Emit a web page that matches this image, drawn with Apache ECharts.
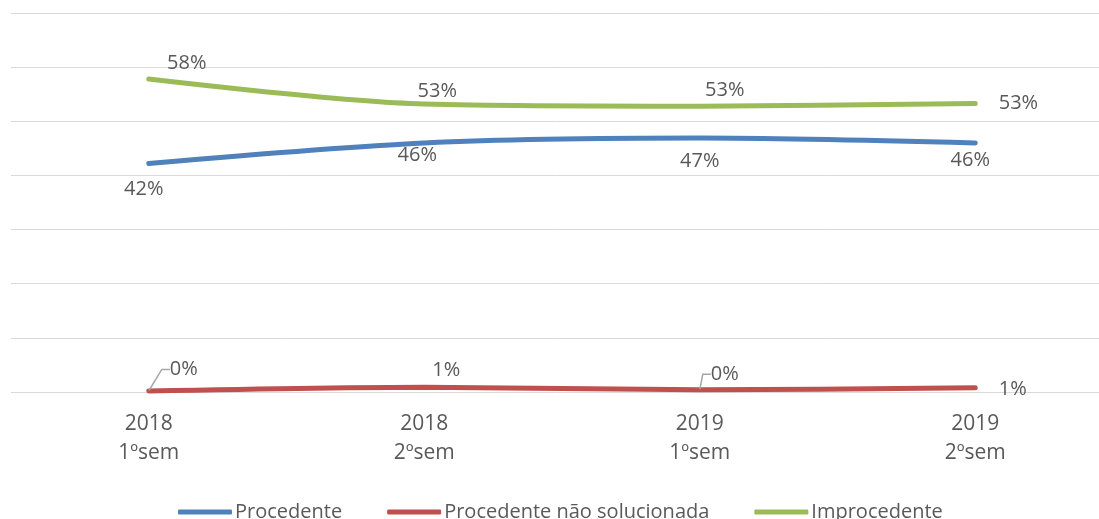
<!DOCTYPE html>
<html>
<head>
<meta charset="utf-8">
<script src="https://cdn.jsdelivr.net/npm/echarts@6/dist/echarts.min.js"></script>
<style>
  html, body { margin: 0; padding: 0; background: #fff; }
  #main { width: 1099px; height: 519px; }
</style>
</head>
<body>
<div id="main"></div>
<script>
var categories = ['2018\n1ºsem', '2018\n2ºsem', '2019\n1ºsem', '2019\n2ºsem'];
var procedente = [42.2, 46.0, 46.9, 46.0];
var naoSolucionada = [0.2, 0.9, 0.4, 0.8];
var improcedente = [57.8, 53.2, 52.8, 53.3];

// label placement per point (layout only)
var greenLabels = [['top', [38, 0]], ['top', [13, 3]], ['top', [25, 0]], ['right', [18, 0]]];
var blueLabels = [['bottom', [-5, 10]], ['bottom', [-7, -3]], ['bottom', [0, 8]], ['bottom', [-5, 2]]];
var redLabels = [['top', [0, 0]], ['top', [0, 0]], ['top', [0, 0]], ['right', [0, 0]]];
// red labels are moved by labelLayout; 0 and 2 keep a leader line
var redMoved = [[35, -6], [22, -1], [25, 0], [18, 2]];
var redLeaders = [true, false, true, false];

var textColor = '#595959';
var font = 'Open Sans';

function buildData(values, labels, leaders) {
  return values.map(function (v, i) {
    var item = {
      value: v,
      label: { position: labels[i][0], offset: labels[i][1] }
    };
    if (leaders) item.labelLine = { show: leaders[i] };
    return item;
  });
}

function pct(p) { return Math.round(p.value) + '%'; }

function lineSeries(name, color, values, labels, leaders) {
  return {
    name: name,
    type: 'line',
    smooth: 0.3,
    symbol: 'circle',
    symbolSize: 1,
    showSymbol: true,
    lineStyle: { color: color, width: 5, cap: 'round' },
    itemStyle: { color: color },
    label: { show: true, formatter: pct, color: textColor, fontSize: 20, fontFamily: font },
    data: buildData(values, labels, leaders)
  };
}

var red = lineSeries('Procedente não solucionada', '#c0504d', naoSolucionada, redLabels, redLeaders);
red.labelLine = { show: true, length: 14, length2: 8, smooth: false, minTurnAngle: 90, lineStyle: { color: '#a6a6a6', width: 1.5 } };
red.labelLayout = function (p) {
  var m = redMoved[p.dataIndex];
  return { dx: m[0], dy: m[1] };
};

var myChart = echarts.init(document.getElementById('main'));
var option = {
  animation: false,
  grid: { left: 11, top: 13, width: 1102, height: 379, outerBoundsMode: 'none' },
  legend: {
    bottom: -3,
    left: 178,
    padding: 0,
    itemWidth: 54,
    itemHeight: 5,
    itemGap: 45,
    icon: 'roundRect',
    textStyle: { color: textColor, fontSize: 20, fontFamily: font, padding: [0, 0, 0, -2] },
    data: ['Procedente', 'Procedente não solucionada', 'Improcedente']
  },
  xAxis: {
    type: 'category',
    data: categories,
    boundaryGap: true,
    axisLine: { show: false },
    axisTick: { show: false },
    axisLabel: { color: textColor, fontSize: 21, fontFamily: font, lineHeight: 29, margin: 18 }
  },
  yAxis: {
    type: 'value',
    min: 0,
    max: 70,
    interval: 10,
    axisLabel: { show: false },
    axisLine: { show: false },
    axisTick: { show: false },
    splitLine: { lineStyle: { color: '#d9d9d9', width: 1 } }
  },
  series: [
    lineSeries('Procedente', '#4f81bd', procedente, blueLabels),
    red,
    lineSeries('Improcedente', '#9bbb59', improcedente, greenLabels)
  ]
};
myChart.setOption(option);
</script>
</body>
</html>
